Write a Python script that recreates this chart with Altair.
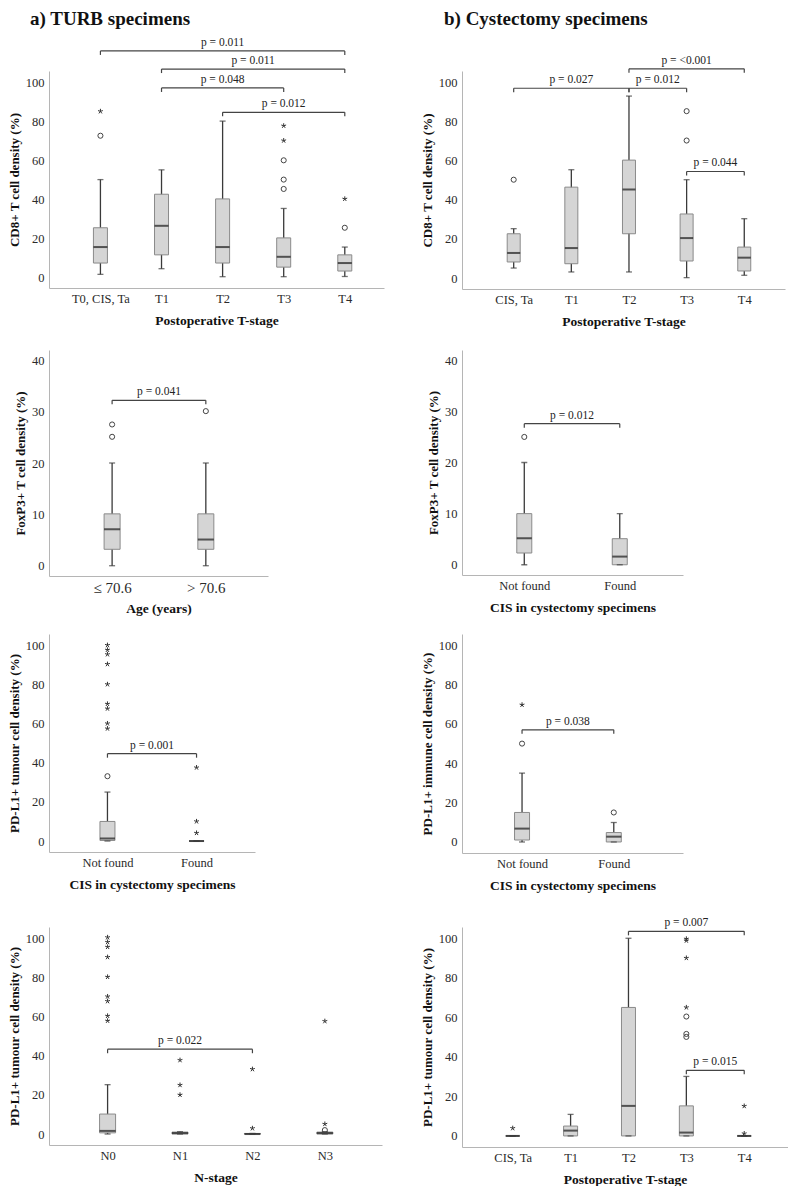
import json
import altair as alt
import pandas as pd

FONT = "Liberation Serif"

# ---------------- a1: TURB, CD8+ by T-stage ----------------
A1_CATS = ["T0, CIS, Ta", "T1", "T2", "T3", "T4"]
A1_LOW = [1.4, 4.3, 0.2, 0.2, 0.3]
A1_Q1 = [7.2, 11.4, 7.2, 5.1, 3.1]
A1_MED = [15.4, 26.3, 15.4, 10.4, 7.2]
A1_Q3 = [25.3, 42.5, 40.1, 20.1, 11.4]
A1_HIGH = [50, 55, 80, 35.2, 15.4]
A1_CIRC_I = [0, 3, 3, 3, 4]
A1_CIRC_V = [72.5, 45.2, 50, 59.9, 25.3]
A1_STAR_I = [0, 3, 3, 4]
A1_STAR_V = [85, 70, 77.6, 40.1]
A1_BR_FROM = [0, 1, 1, 2]
A1_BR_TO = [4, 4, 3, 4]
A1_BR_Y = [116, 106.7, 97, 84.5]
A1_BR_TEXT = ["p = 0.011", "p = 0.011", "p = 0.048", "p = 0.012"]

# ---------------- b1: Cystectomy, CD8+ by T-stage ----------------
B1_CATS = ["CIS, Ta", "T1", "T2", "T3", "T4"]
B1_LOW = [5.1, 3.1, 3.1, 0.2, 1.4]
B1_Q1 = [8.2, 7.3, 22.6, 8.7, 3.6]
B1_MED = [12.8, 15.3, 45.2, 20.4, 10.4]
B1_Q3 = [22.6, 46.4, 60.2, 32.7, 15.8]
B1_HIGH = [25.2, 55.3, 92.9, 50.2, 30.3]
B1_CIRC_I = [0, 3, 3]
B1_CIRC_V = [50.2, 70.2, 85.2]
B1_STAR_I = []
B1_STAR_V = []
B1_BR_FROM = [0, 2, 2, 3]
B1_BR_TO = [2, 3, 4, 4]
B1_BR_Y = [96.9, 96.9, 106.8, 54.4]
B1_BR_TEXT = ["p = 0.027", "p = 0.012", "p = <0.001", "p = 0.044"]

# ---------------- a2: TURB, FoxP3+ by age ----------------
A2_CATS = ["\u2264 70.6", "> 70.6"]
A2_LOW = [0, 0]
A2_Q1 = [3.2, 3.2]
A2_MED = [7.1, 5.1]
A2_Q3 = [10.1, 10.1]
A2_HIGH = [20, 20]
A2_CIRC_I = [0, 0, 1]
A2_CIRC_V = [25.1, 27.5, 30.1]
A2_STAR_I = []
A2_STAR_V = []
A2_BR_FROM = [0]
A2_BR_TO = [1]
A2_BR_Y = [32.2]
A2_BR_TEXT = ["p = 0.041"]

# ---------------- b2: Cystectomy, FoxP3+ by CIS ----------------
B2_CATS = ["Not found", "Found"]
B2_LOW = [0, 0]
B2_Q1 = [2.3, 0]
B2_MED = [5.2, 1.6]
B2_Q3 = [10, 5.1]
B2_HIGH = [20, 10]
B2_CIRC_I = [0]
B2_CIRC_V = [25]
B2_STAR_I = []
B2_STAR_V = []
B2_BR_FROM = [0]
B2_BR_TO = [1]
B2_BR_Y = [27.6]
B2_BR_TEXT = ["p = 0.012"]

# ---------------- a3: TURB, PD-L1+ tumour cells by CIS ----------------
A3_CATS = ["Not found", "Found"]
A3_LOW = [0, 0]
A3_Q1 = [0.3, 0]
A3_MED = [1.3, 0]
A3_Q3 = [10, 0]
A3_HIGH = [25, 0]
A3_CIRC_I = [0]
A3_CIRC_V = [33.1]
A3_STAR_I = [0, 0, 0, 0, 0, 0, 0, 0, 0, 1, 1, 1]
A3_STAR_V = [100, 97.6, 95.3, 90.3, 80, 70, 67.6, 60, 57.4, 37.5, 10, 4.1]
A3_BR_FROM = [0]
A3_BR_TO = [1]
A3_BR_Y = [44.6]
A3_BR_TEXT = ["p = 0.001"]

# ---------------- b3: Cystectomy, PD-L1+ immune cells by CIS ----------------
B3_CATS = ["Not found", "Found"]
B3_LOW = [0, 0]
B3_Q1 = [1, 0]
B3_MED = [6.8, 2.7]
B3_Q3 = [15, 4.8]
B3_HIGH = [35, 9.9]
B3_CIRC_I = [0, 1]
B3_CIRC_V = [50, 15]
B3_STAR_I = [0]
B3_STAR_V = [69.7]
B3_BR_FROM = [0]
B3_BR_TO = [1]
B3_BR_Y = [57]
B3_BR_TEXT = ["p = 0.038"]

# ---------------- a4: TURB, PD-L1+ tumour cells by N-stage ----------------
A4_CATS = ["N0", "N1", "N2", "N3"]
A4_LOW = [0, 0, 0, 0]
A4_Q1 = [0.6, 0, 0, 0]
A4_MED = [1.6, 0.5, 0, 0.5]
A4_Q3 = [10.2, 1, 0.3, 1]
A4_HIGH = [25.2, 1.2, 0.3, 1.2]
A4_CIRC_I = [3]
A4_CIRC_V = [2]
A4_STAR_I = [0, 0, 0, 0, 0, 0, 0, 0, 0, 1, 1, 1, 2, 2, 3, 3]
A4_STAR_V = [100.4, 98, 95.5, 90.3, 80.2, 70.2, 67.8, 60.3, 57.8,
             37.7, 25, 20, 33.1, 2.9, 57.6, 5.1]
A4_BR_FROM = [0]
A4_BR_TO = [2]
A4_BR_Y = [43.3]
A4_BR_TEXT = ["p = 0.022"]

# ---------------- b4: Cystectomy, PD-L1+ tumour cells by T-stage ----------------
B4_CATS = ["CIS, Ta", "T1", "T2", "T3", "T4"]
B4_LOW = [0, 0, 0, 0, 0]
B4_Q1 = [0, 0, 0, 0, 0]
B4_MED = [0, 2.7, 15.2, 1.7, 0]
B4_Q3 = [0, 5, 65, 15.2, 0]
B4_HIGH = [0, 10.9, 100, 30.1, 0]
B4_CIRC_I = [3, 3, 3]
B4_CIRC_V = [50.1, 51.6, 60.4]
B4_STAR_I = [0, 3, 3, 3, 3, 4, 4]
B4_STAR_V = [3.9, 65, 90, 98.8, 99.7, 15.1, 1.2]
B4_BR_FROM = [2, 3]
B4_BR_TO = [4, 4]
B4_BR_Y = [103.5, 33.2]
B4_BR_TEXT = ["p = 0.007", "p = 0.015"]

STAR_PATH = "M0,0L0,-1M0,0L0.95,-0.31M0,0L0.59,0.81M0,0L-0.59,0.81M0,0L-0.95,-0.31"
END_PATH = "M0,0L0,1"


def panel(cats, low, q1, med, q3, high, circ_i, circ_v, star_i, star_v,
          br_from, br_to, br_y, br_text, xdom, ydom, yvals, width, height,
          ytitle, xtitle, box_w=14, label_size=12.5, x_title_pad=9, title=None):
    n = len(cats)
    boxes = pd.DataFrame({"i": list(range(n)), "low": low, "q1": q1,
                          "med": med, "q3": q3, "high": high})
    xs = alt.Scale(domain=xdom, nice=False, zero=False)
    ys = alt.Scale(domain=ydom, nice=False, zero=False)
    xaxis = alt.Axis(values=list(range(n)), labelExpr=json.dumps(cats) + "[datum.value]",
                     ticks=False, grid=False, domainColor="#b5b5b5", domainWidth=1,
                     labelFont=FONT, labelFontSize=label_size, labelColor="#2a2a2a",
                     labelPadding=4, title=xtitle, titleFont=FONT, titleFontSize=13.5,
                     titleFontWeight="bold", titleColor="#111111", titlePadding=x_title_pad)
    yaxis = alt.Axis(values=yvals, ticks=False, grid=False, domainColor="#b5b5b5",
                     domainWidth=1, labelFont=FONT, labelFontSize=12.5, labelColor="#2a2a2a",
                     labelPadding=5, title=ytitle, titleFont=FONT, titleFontSize=13,
                     titleFontWeight="bold", titleColor="#111111", titlePadding=4)

    def X(f):
        return alt.X(f, type="quantitative", scale=xs, axis=xaxis)

    def Y(f):
        return alt.Y(f, type="quantitative", scale=ys, axis=yaxis)

    base = alt.Chart(boxes)
    layers = [
        base.mark_rule(color="#3a3a3a", strokeWidth=1.3).encode(x=X("i"), y=Y("low"), y2="high"),
        base.mark_bar(size=box_w, color="#d5d5d5", stroke="#8a8a8a", strokeWidth=1)
            .encode(x=X("i"), y=Y("q1"), y2="q3"),
        base.mark_tick(orient="horizontal", size=box_w, thickness=2, color="#1a1a1a")
            .encode(x=X("i"), y=Y("med")),
        base.mark_tick(orient="horizontal", size=6, thickness=1.3, color="#3a3a3a")
            .encode(x=X("i"), y=Y("low")),
        base.mark_tick(orient="horizontal", size=6, thickness=1.3, color="#3a3a3a")
            .encode(x=X("i"), y=Y("high")),
    ]
    if circ_i:
        cdf = pd.DataFrame({"i": circ_i, "v": circ_v})
        layers.append(alt.Chart(cdf).mark_point(shape="circle", filled=False, size=26,
                                                strokeWidth=1, color="#444444", opacity=1)
                      .encode(x=X("i"), y=Y("v")))
    if star_i:
        sdf = pd.DataFrame({"i": star_i, "v": star_v})
        layers.append(alt.Chart(sdf).mark_point(shape=STAR_PATH, filled=False, size=26,
                                                strokeWidth=1, color="#333333", opacity=1)
                      .encode(x=X("i"), y=Y("v")))
    bdf = pd.DataFrame({"a": br_from, "b": br_to, "y": br_y, "t": br_text})
    bdf["m"] = (bdf["a"] + bdf["b"]) / 2
    edf = pd.DataFrame({"i": list(br_from) + list(br_to), "y": list(br_y) + list(br_y)})
    layers.append(alt.Chart(bdf).mark_rule(color="#444444", strokeWidth=1.2)
                  .encode(x=X("a"), x2="b", y=Y("y")))
    layers.append(alt.Chart(edf).mark_point(shape=END_PATH, filled=False, size=64,
                                            strokeWidth=1.2, color="#444444", opacity=1)
                  .encode(x=X("i"), y=Y("y")))
    layers.append(alt.Chart(bdf).mark_text(baseline="bottom", dy=-3, font=FONT,
                                           fontSize=11.5, color="#222222")
                  .encode(x=X("m"), y=Y("y"), text="t:N"))
    ch = alt.layer(*layers).properties(width=width, height=height)
    if title is not None:
        ch = ch.properties(title=title)
    return ch


def spacer(h):
    return alt.Chart(pd.DataFrame({"i": [0]})).mark_point(opacity=0).encode(
        x=alt.X("i:Q", axis=None), y=alt.Y("i:Q", axis=None)
    ).properties(width=10, height=h)


Y100 = [0, 20, 40, 60, 80, 100]
Y40 = [0, 10, 20, 30, 40]
D100 = [-5.6, 105.7]
D40 = [-2.0, 42.0]

a1 = panel(A1_CATS, A1_LOW, A1_Q1, A1_MED, A1_Q3, A1_HIGH, A1_CIRC_I, A1_CIRC_V,
           A1_STAR_I, A1_STAR_V, A1_BR_FROM, A1_BR_TO, A1_BR_Y, A1_BR_TEXT,
           [-0.76, 4.56], D100, Y100, 335, 217, "CD8+ T cell density (%)",
           "Postoperative T-stage", box_w=14,
           title=alt.TitleParams("a) TURB specimens", anchor="start", frame="group",
                                 dx=-19, fontSize=19, font=FONT, fontWeight="bold",
                                 color="#111111", offset=7.5))
b1 = panel(B1_CATS, B1_LOW, B1_Q1, B1_MED, B1_Q3, B1_HIGH, B1_CIRC_I, B1_CIRC_V,
           B1_STAR_I, B1_STAR_V, B1_BR_FROM, B1_BR_TO, B1_BR_Y, B1_BR_TEXT,
           [-0.81, 4.62], D100, Y100, 323, 218, "CD8+ T cell density (%)",
           "Postoperative T-stage", box_w=13,
           title=alt.TitleParams("b) Cystectomy specimens", anchor="start", frame="group",
                                 dx=-18, fontSize=19, font=FONT, fontWeight="bold",
                                 color="#111111", offset=25.5))
a2 = panel(A2_CATS, A2_LOW, A2_Q1, A2_MED, A2_Q3, A2_HIGH, A2_CIRC_I, A2_CIRC_V,
           A2_STAR_I, A2_STAR_V, A2_BR_FROM, A2_BR_TO, A2_BR_Y, A2_BR_TEXT,
           [-0.62, 1.61], D40, Y40, 219, 226, "FoxP3+ T cell density (%)",
           "Age (years)", box_w=16, label_size=15, x_title_pad=6)
b2 = panel(B2_CATS, B2_LOW, B2_Q1, B2_MED, B2_Q3, B2_HIGH, B2_CIRC_I, B2_CIRC_V,
           B2_STAR_I, B2_STAR_V, B2_BR_FROM, B2_BR_TO, B2_BR_Y, B2_BR_TEXT,
           [-0.6, 1.61], D40, Y40, 221, 225, "FoxP3+ T cell density (%)",
           "CIS in cystectomy specimens", box_w=15)
a3 = panel(A3_CATS, A3_LOW, A3_Q1, A3_MED, A3_Q3, A3_HIGH, A3_CIRC_I, A3_CIRC_V,
           A3_STAR_I, A3_STAR_V, A3_BR_FROM, A3_BR_TO, A3_BR_Y, A3_BR_TEXT,
           [-0.6, 1.6], D100, Y100, 206, 218, "PD-L1+ tumour cell density (%)",
           "CIS in cystectomy specimens", box_w=15)
b3 = panel(B3_CATS, B3_LOW, B3_Q1, B3_MED, B3_Q3, B3_HIGH, B3_CIRC_I, B3_CIRC_V,
           B3_STAR_I, B3_STAR_V, B3_BR_FROM, B3_BR_TO, B3_BR_Y, B3_BR_TEXT,
           [-0.6, 1.7], D100, Y100, 221, 219, "PD-L1+ immune cell density (%)",
           "CIS in cystectomy specimens", box_w=15)
a4 = panel(A4_CATS, A4_LOW, A4_Q1, A4_MED, A4_Q3, A4_HIGH, A4_CIRC_I, A4_CIRC_V,
           A4_STAR_I, A4_STAR_V, A4_BR_FROM, A4_BR_TO, A4_BR_Y, A4_BR_TEXT,
           [-0.74, 3.72], D100, Y100, 333, 218, "PD-L1+ tumour cell density (%)",
           "N-stage", box_w=16)
b4 = panel(B4_CATS, B4_LOW, B4_Q1, B4_MED, B4_Q3, B4_HIGH, B4_CIRC_I, B4_CIRC_V,
           B4_STAR_I, B4_STAR_V, B4_BR_FROM, B4_BR_TO, B4_BR_Y, B4_BR_TEXT,
           [-0.79, 4.67], D100, Y100, 326, 220, "PD-L1+ tumour cell density (%)",
           "Postoperative T-stage", box_w=14)

chart = alt.concat(
    a1, b1, spacer(20.5), spacer(20.5),
    a2, b2, spacer(18), spacer(18),
    a3, b3, spacer(34), spacer(34),
    a4, b4,
    columns=2,
    spacing=alt.RowColnumber(row=20, column=78),
    bounds="flush",
    align="each",
).properties(
    padding=alt.Padding(top=2, left=0, right=0, bottom=0)
).configure(
    font=FONT, background="white", view=alt.ViewConfig(stroke=None)
)

chart.save("out.html", embed_options={"renderer": "svg", "actions": False})
